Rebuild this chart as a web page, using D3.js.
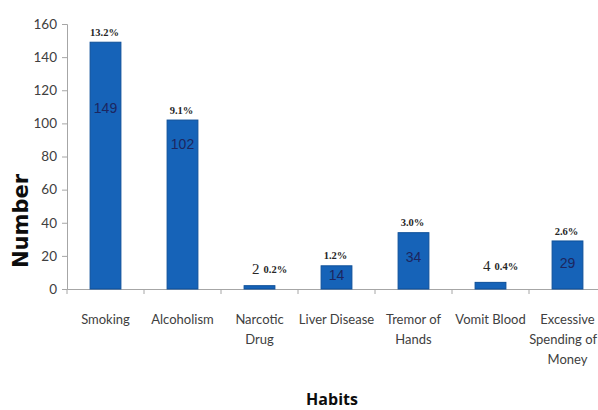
<!DOCTYPE html>
<html><head><meta charset="utf-8">
<script src="https://cdn.jsdelivr.net/npm/d3@7"></script>
<style>body{margin:0;background:#fff}svg{display:block}</style>
</head><body>
<svg id="c" width="598" height="410"></svg>
<script>
const categories = [["Smoking"],["Alcoholism"],["Narcotic","Drug"],["Liver Disease"],["Tremor of","Hands"],["Vomit Blood"],["Excessive","Spending of","Money"]];
const values = [149, 102, 2, 14, 34, 4, 29];
const percents = ["13.2%", "9.1%", "0.2%", "1.2%", "3.0%", "0.4%", "2.6%"];
const yTicks = [0, 20, 40, 60, 80, 100, 120, 140, 160];

const svg = d3.select("#c");
const keys = categories.map(c => c.join(" "));
const x = d3.scaleBand().domain(keys).range([67, 606]).paddingInner(0.6).paddingOuter(0.3);
const y = d3.scaleLinear().domain([0, 160]).range([289, 24]);

// y axis
const ya = svg.append("g").attr("transform","translate(67,0)")
  .call(d3.axisLeft(y).tickValues(yTicks).tickSize(5).tickPadding(5).tickFormat(d3.format("d")));
ya.select(".domain").attr("stroke","#a6a6a6");
ya.selectAll(".tick line").attr("stroke","#a6a6a6");
ya.selectAll(".tick text").attr("font-family","Lato").attr("font-size",13.5).attr("fill","#404040");

// x axis
const xa = svg.append("g").attr("transform","translate(0,289)")
  .call(d3.axisBottom(x).tickSize(0).tickFormat(""));
xa.select(".domain").attr("stroke","#a6a6a6");
const step = x.step();
const bounds = d3.range(keys.length + 1).map(i => 67 + i * step);
svg.append("g").selectAll("line").data(bounds).join("line")
  .attr("x1", d => d).attr("x2", d => d).attr("y1", 289).attr("y2", 294).attr("stroke","#a6a6a6");

// x labels
const lab = svg.append("g").selectAll("text").data(categories).join("text")
  .attr("font-family","Lato").attr("font-size",13).attr("fill","#404040").attr("text-anchor","middle");
lab.each(function(c, i){
  const t = d3.select(this);
  c.forEach((line, j) => {
    const ts = t.append("tspan").attr("x", x(keys[i]) + x.bandwidth()/2).attr("y", 324 + j*20).text(line);
    const w = ts.node().getComputedTextLength();
    const cx = x(keys[i]) + x.bandwidth()/2;
    if (cx + w/2 > 597) ts.attr("x", 597 - w/2);
  });
});

// bars
svg.append("g").selectAll("rect").data(values).join("rect")
  .attr("x", (d,i) => x(keys[i])).attr("width", x.bandwidth())
  .attr("y", d => y(d)).attr("height", d => y(0) - y(d))
  .attr("fill","#1663b8").attr("stroke","#0d4f99").attr("stroke-width",1);

// value labels
const insideDy = [66, 24, 0, 9, 24, 0, 22];
const g = svg.append("g");
values.forEach((v, i) => {
  const cx = x(keys[i]) + x.bandwidth()/2;
  if (v >= 10) {
    g.append("text").attr("x", cx).attr("y", y(v) + insideDy[i]).attr("dy","0.35em")
      .attr("text-anchor","middle").attr("font-family","Liberation Sans").attr("font-size",14)
      .attr("fill","#1c2660").text(v);
    g.append("text").attr("x", cx - 1).attr("y", y(v) - 10).attr("dy","0.35em")
      .attr("text-anchor","middle").attr("font-family","Liberation Serif").attr("font-weight","bold")
      .attr("font-size",10.5).attr("fill","#262626").text(percents[i]);
  } else {
    g.append("text").attr("x", cx).attr("y", y(v) - 17).attr("dy","0.35em")
      .attr("text-anchor","end").attr("font-family","Liberation Serif")
      .attr("font-size",15).attr("fill","#262626").text(v);
    g.append("text").attr("x", cx + 4).attr("y", y(v) - 16).attr("dy","0.35em")
      .attr("text-anchor","start").attr("font-family","Liberation Serif").attr("font-weight","bold")
      .attr("font-size",10.5).attr("fill","#262626").text(percents[i]);
  }
});

// axis titles
svg.append("text").attr("transform","translate(28,221) rotate(-90)").attr("text-anchor","middle")
  .attr("font-family","DejaVu Sans").attr("font-weight","bold").attr("font-size",21).attr("fill","#0d0d0d").text("Number");
svg.append("text").attr("x",332).attr("y",405).attr("text-anchor","middle")
  .attr("font-family","Open Sans").attr("font-weight","bold").attr("font-size",16).attr("fill","#0d0d0d").text("Habits");
</script>
</body></html>
